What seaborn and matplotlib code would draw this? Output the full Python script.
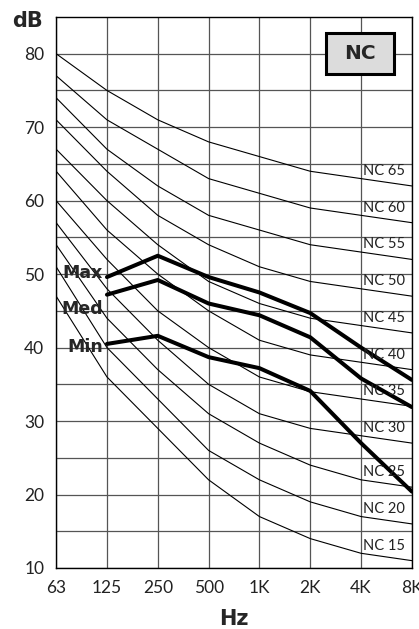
import pandas as pd
import matplotlib.pyplot as plt
import seaborn as sns
from matplotlib.patches import Rectangle

# octave band centres
freqs = ["63", "125", "250", "500", "1K", "2K", "4K", "8K"]
nc_names = ["NC 15", "NC 20", "NC 25", "NC 30", "NC 35", "NC 40",
            "NC 45", "NC 50", "NC 55", "NC 60", "NC 65"]
nc15 = [47, 36, 29, 22, 17, 14, 12, 11]
nc20 = [51, 40, 33, 26, 22, 19, 17, 16]
nc25 = [54, 44, 37, 31, 27, 24, 22, 21]
nc30 = [57, 48, 41, 35, 31, 29, 28, 27]
nc35 = [60, 52, 45, 40, 36, 34, 33, 32]
nc40 = [64, 56, 50, 45, 41, 39, 38, 37]
nc45 = [67, 60, 54, 49, 46, 44, 43, 42]
nc50 = [71, 64, 58, 54, 51, 49, 48, 47]
nc55 = [74, 67, 62, 58, 56, 54, 53, 52]
nc60 = [77, 71, 67, 63, 61, 59, 58, 57]
nc65 = [80, 75, 71, 68, 66, 64, 63, 62]

# measured levels, 125 Hz .. 8 kHz
meas_freqs = ["125", "250", "500", "1K", "2K", "4K", "8K"]
max_level = [49.6, 52.5, 49.6, 47.5, 44.7, 40.0, 35.6]
med_level = [47.2, 49.2, 46.0, 44.4, 41.4, 35.8, 31.9]
min_level = [40.5, 41.6, 38.7, 37.2, 34.1, 27.0, 20.4]

nc_curves = [nc15, nc20, nc25, nc30, nc35, nc40, nc45, nc50, nc55, nc60, nc65]

pos = {f: i for i, f in enumerate(freqs)}

rows = []
for name, vals in zip(nc_names, nc_curves):
    for f, v in zip(freqs, vals):
        rows.append({"curve": name, "x": pos[f], "dB": v})
nc_df = pd.DataFrame(rows)

rows = []
for name, vals in [("Max", max_level), ("Med", med_level), ("Min", min_level)]:
    for f, v in zip(meas_freqs, vals):
        rows.append({"curve": name, "x": pos[f], "dB": v})
meas_df = pd.DataFrame(rows)

sns.set_style("white")
plt.rcParams["font.family"] = ["Lato", "DejaVu Sans"]

fig = plt.figure(figsize=(4.19, 6.29), dpi=100)
ax = fig.add_axes([0.134, 0.097, 0.849, 0.876])

sns.lineplot(data=nc_df, x="x", y="dB", hue="curve",
             palette=["black"] * len(nc_names), linewidth=0.8,
             legend=False, ax=ax, zorder=3)
sns.lineplot(data=meas_df, x="x", y="dB", hue="curve",
             palette=["black"] * 3, linewidth=2.9,
             legend=False, ax=ax, zorder=4)

ax.set_xlim(0, 7)
ax.set_ylim(10, 85)
ax.set_xticks(range(len(freqs)))
ax.set_xticklabels(freqs)
ax.set_yticks(range(10, 90, 10))
ax.set_yticks(range(15, 85, 10), minor=True)
ax.grid(True, which="both", color="#555555", linewidth=0.9, zorder=1)
ax.set_axisbelow(True)
ax.tick_params(axis="both", which="major", direction="out", length=5,
               width=0.9, color="black", labelsize=12.5, labelcolor="#222222")
ax.tick_params(axis="x", pad=4)
ax.tick_params(axis="y", which="minor", length=0)
for s in ax.spines.values():
    s.set_color("black")
    s.set_linewidth(1.0)
ax.set_xlabel("")
ax.set_ylabel("")

# curve labels
for name, vals in zip(nc_names, nc_curves):
    ax.text(6.04, vals[6] + 0.1, name, fontsize=10.5, va="bottom", ha="left",
            color="#222222", zorder=5)

for name, y in [("Max", 50.1), ("Med", 45.2), ("Min", 40.1)]:
    ax.text(0.92, y, name, fontsize=12.5, fontweight="heavy", ha="right",
            va="center", family="DejaVu Sans", zorder=6)

# NC box
ax.add_patch(Rectangle((5.31, 77.3), 1.33, 5.5, facecolor="#dcdcdc",
                       edgecolor="black", linewidth=2.2, zorder=6))
ax.text(5.975, 80.05, "NC", fontsize=14.5, fontweight="bold", ha="center",
        va="center", family="DejaVu Sans", zorder=7)

fig.text(0.066, 0.967, "dB", fontsize=15, fontweight="heavy",
         ha="center", va="center", family="DejaVu Sans")
fig.text(0.558, 0.016, "Hz", fontsize=15, fontweight="heavy",
         ha="center", va="center", family="DejaVu Sans")

fig.savefig("out.png", dpi=100)
